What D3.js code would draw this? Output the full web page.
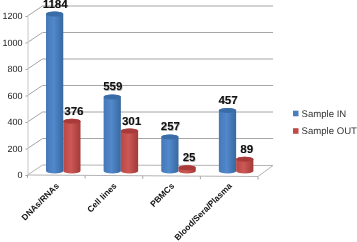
<!DOCTYPE html>
<html>
<head>
<meta charset="utf-8">
<script src="https://cdnjs.cloudflare.com/ajax/libs/d3/7.8.5/d3.min.js"></script>
<style>
  html, body { margin: 0; padding: 0; background: #fff; }
  svg { display: block; font-family: "Liberation Sans", Arial, sans-serif; text-rendering: geometricPrecision; filter: blur(0.35px); }
</style>
</head>
<body>
<div class="chart"></div>
<script>
var categories = ["DNAs/RNAs", "Cell lines", "PBMCs", "Blood/Sera/Plasma"];
var sampleIn = [1184, 559, 257, 457];
var sampleOut = [376, 301, 25, 89];
var seriesNames = ["Sample IN", "Sample OUT"];
var yTicks = [0, 200, 400, 600, 800, 1000, 1200];

var svgWidth = 357, svgHeight = 242;

// front edge of the floor and how far the back wall is shifted
var x0 = 27.5, x1 = 258, yBase = 175, yTop = 16;
var depthX = 15, depthY = 10;
// bars stand in the middle of the floor, a bit above the front edge
var barLift = 4;

var svg = d3.select(".chart").append("svg")
  .attr("width", svgWidth)
  .attr("height", svgHeight);

var defs = svg.append("defs");

function addGradient(id, dark, mid, light) {
  var g = defs.append("linearGradient").attr("id", id);
  g.append("stop").attr("offset", "0%").attr("stop-color", mid);
  g.append("stop").attr("offset", "45%").attr("stop-color", light);
  g.append("stop").attr("offset", "100%").attr("stop-color", dark);
}
addGradient("blueBody", "#37689f", "#4478b8", "#5289cc");
addGradient("redBody", "#a03a38", "#bb4845", "#cd5855");

var shadow = defs.append("filter").attr("id", "soft");
shadow.append("feGaussianBlur").attr("stdDeviation", 0.6);

var x = d3.scaleBand().domain(categories).range([x0, x1]);
var y = d3.scaleLinear().domain([0, 1200]).range([yBase, yTop]);
var barX = d3.scaleBand().domain(seriesNames).range([18.5, 53]);

// floor
svg.append("path")
  .attr("d", "M" + x0 + "," + yBase + "L" + x1 + "," + (yBase + 1.5) +
    "L" + (x1 + depthX) + "," + (yBase - depthY + 0.5) +
    "L" + (x0 + depthX) + "," + (yBase - depthY) + "Z")
  .attr("fill", "#fff")
  .attr("stroke", "#b4b4b4");

// grid lines on the wall and the side
svg.selectAll(".grid").data(yTicks.slice(1)).enter().append("path")
  .attr("class", "grid")
  .attr("fill", "none")
  .attr("stroke", "#a6a6a6")
  .attr("d", d => "M" + x0 + "," + y(d) + "L" + (x0 + depthX) + "," + (y(d) - depthY) +
    "L" + (x1 + depthX) + "," + (y(d) - depthY));

// value axis, only the labels and small ticks
var leftAxis = d3.axisLeft(y).tickValues(yTicks).tickFormat(d3.format("d")).tickSize(2).tickPadding(3);
var yAxis = svg.append("g")
  .attr("transform", "translate(" + x0 + ",0)")
  .call(leftAxis);
yAxis.select(".domain").attr("stroke", "#c8c8c8");
yAxis.selectAll("line").attr("stroke", "#a6a6a6");
yAxis.selectAll("text")
  .attr("font-family", "Liberation Sans")
  .attr("font-size", 9)
  .attr("fill", "#1a1a1a");

// category ticks
svg.selectAll(".xtick").data(d3.range(categories.length + 1)).enter().append("line")
  .attr("class", "xtick")
  .attr("x1", i => x0 + i * x.step())
  .attr("x2", i => x0 + i * x.step())
  .attr("y1", i => yBase + i * 0.4)
  .attr("y2", i => yBase + i * 0.4 + 3)
  .attr("stroke", "#a6a6a6");

function drawBars(values, name, body, top, cls) {
  var w = barX.bandwidth(), ry = 2.5;
  var bars = svg.selectAll("." + cls).data(values).enter().append("g")
    .attr("class", cls)
    .attr("transform", (d, i) => "translate(" + (x(categories[i]) + barX(name)) + ",0)");

  bars.append("path")
    .attr("fill", "url(#" + body + ")")
    .attr("d", function (d) {
      var t = y(d) - barLift, b = y(0) - barLift;
      return "M0," + t + "A" + (w / 2) + "," + ry + " 0 0 1 " + w + "," + t +
        "L" + w + "," + b + "A" + (w / 2) + "," + ry + " 0 0 1 0," + b + "Z";
    });

  bars.append("ellipse")
    .attr("cx", w / 2)
    .attr("cy", d => y(d) - barLift)
    .attr("rx", w / 2)
    .attr("ry", ry)
    .attr("fill", top);
}

drawBars(sampleIn, seriesNames[0], "blueBody", "#3a6ca8", "barIn");
drawBars(sampleOut, seriesNames[1], "redBody", "#a83b39", "barOut");

// value labels, with the soft shadow behind them
function drawValues(values, name, shift) {
  var w = barX.bandwidth();
  [true, false].forEach(function (isShadow) {
    svg.selectAll(".v" + name.replace(" ", "") + isShadow).data(values).enter().append("text")
      .attr("class", "v" + name.replace(" ", "") + isShadow)
      .attr("x", (d, i) => x(categories[i]) + barX(name) + w / 2 + shift + (isShadow ? 0.5 : 0))
      .attr("y", d => y(d) - barLift - 6.5 + (isShadow ? 0.5 : 0))
      .attr("text-anchor", "middle")
      .attr("font-size", 11.5)
      .attr("font-weight", "bold")
      .attr("fill", isShadow ? "#aaa" : "#111")
      .attr("filter", isShadow ? "url(#soft)" : null)
      .text(d => d);
  });
}
drawValues(sampleIn, seriesNames[0], 0.5);
drawValues(sampleOut, seriesNames[1], 2);

// category labels
svg.selectAll(".cat").data(categories).enter().append("text")
  .attr("class", "cat")
  .attr("text-anchor", "end")
  .attr("font-size", 8.5)
  .attr("font-weight", "bold")
  .attr("fill", "#111")
  .attr("transform", d => "translate(" + (x(d) + 32) + ",186.5) rotate(-45)")
  .text(d => d);

// legend
var legendColors = ["#4a7ebb", "#be4b48"];
var legendY = d3.scalePoint().domain(seriesNames).range([113.5, 131]);
var legend = svg.selectAll(".legend").data(seriesNames).enter().append("g")
  .attr("class", "legend")
  .attr("transform", d => "translate(293," + legendY(d) + ")");
legend.append("rect")
  .attr("y", -2.8).attr("width", 5.5).attr("height", 5.6)
  .attr("fill", (d, i) => legendColors[i]);
legend.append("text")
  .attr("x", 8.5).attr("y", 3.2)
  .attr("font-size", 9.6)
  .attr("fill", "#333")
  .text(d => d);
</script>
</body>
</html>
